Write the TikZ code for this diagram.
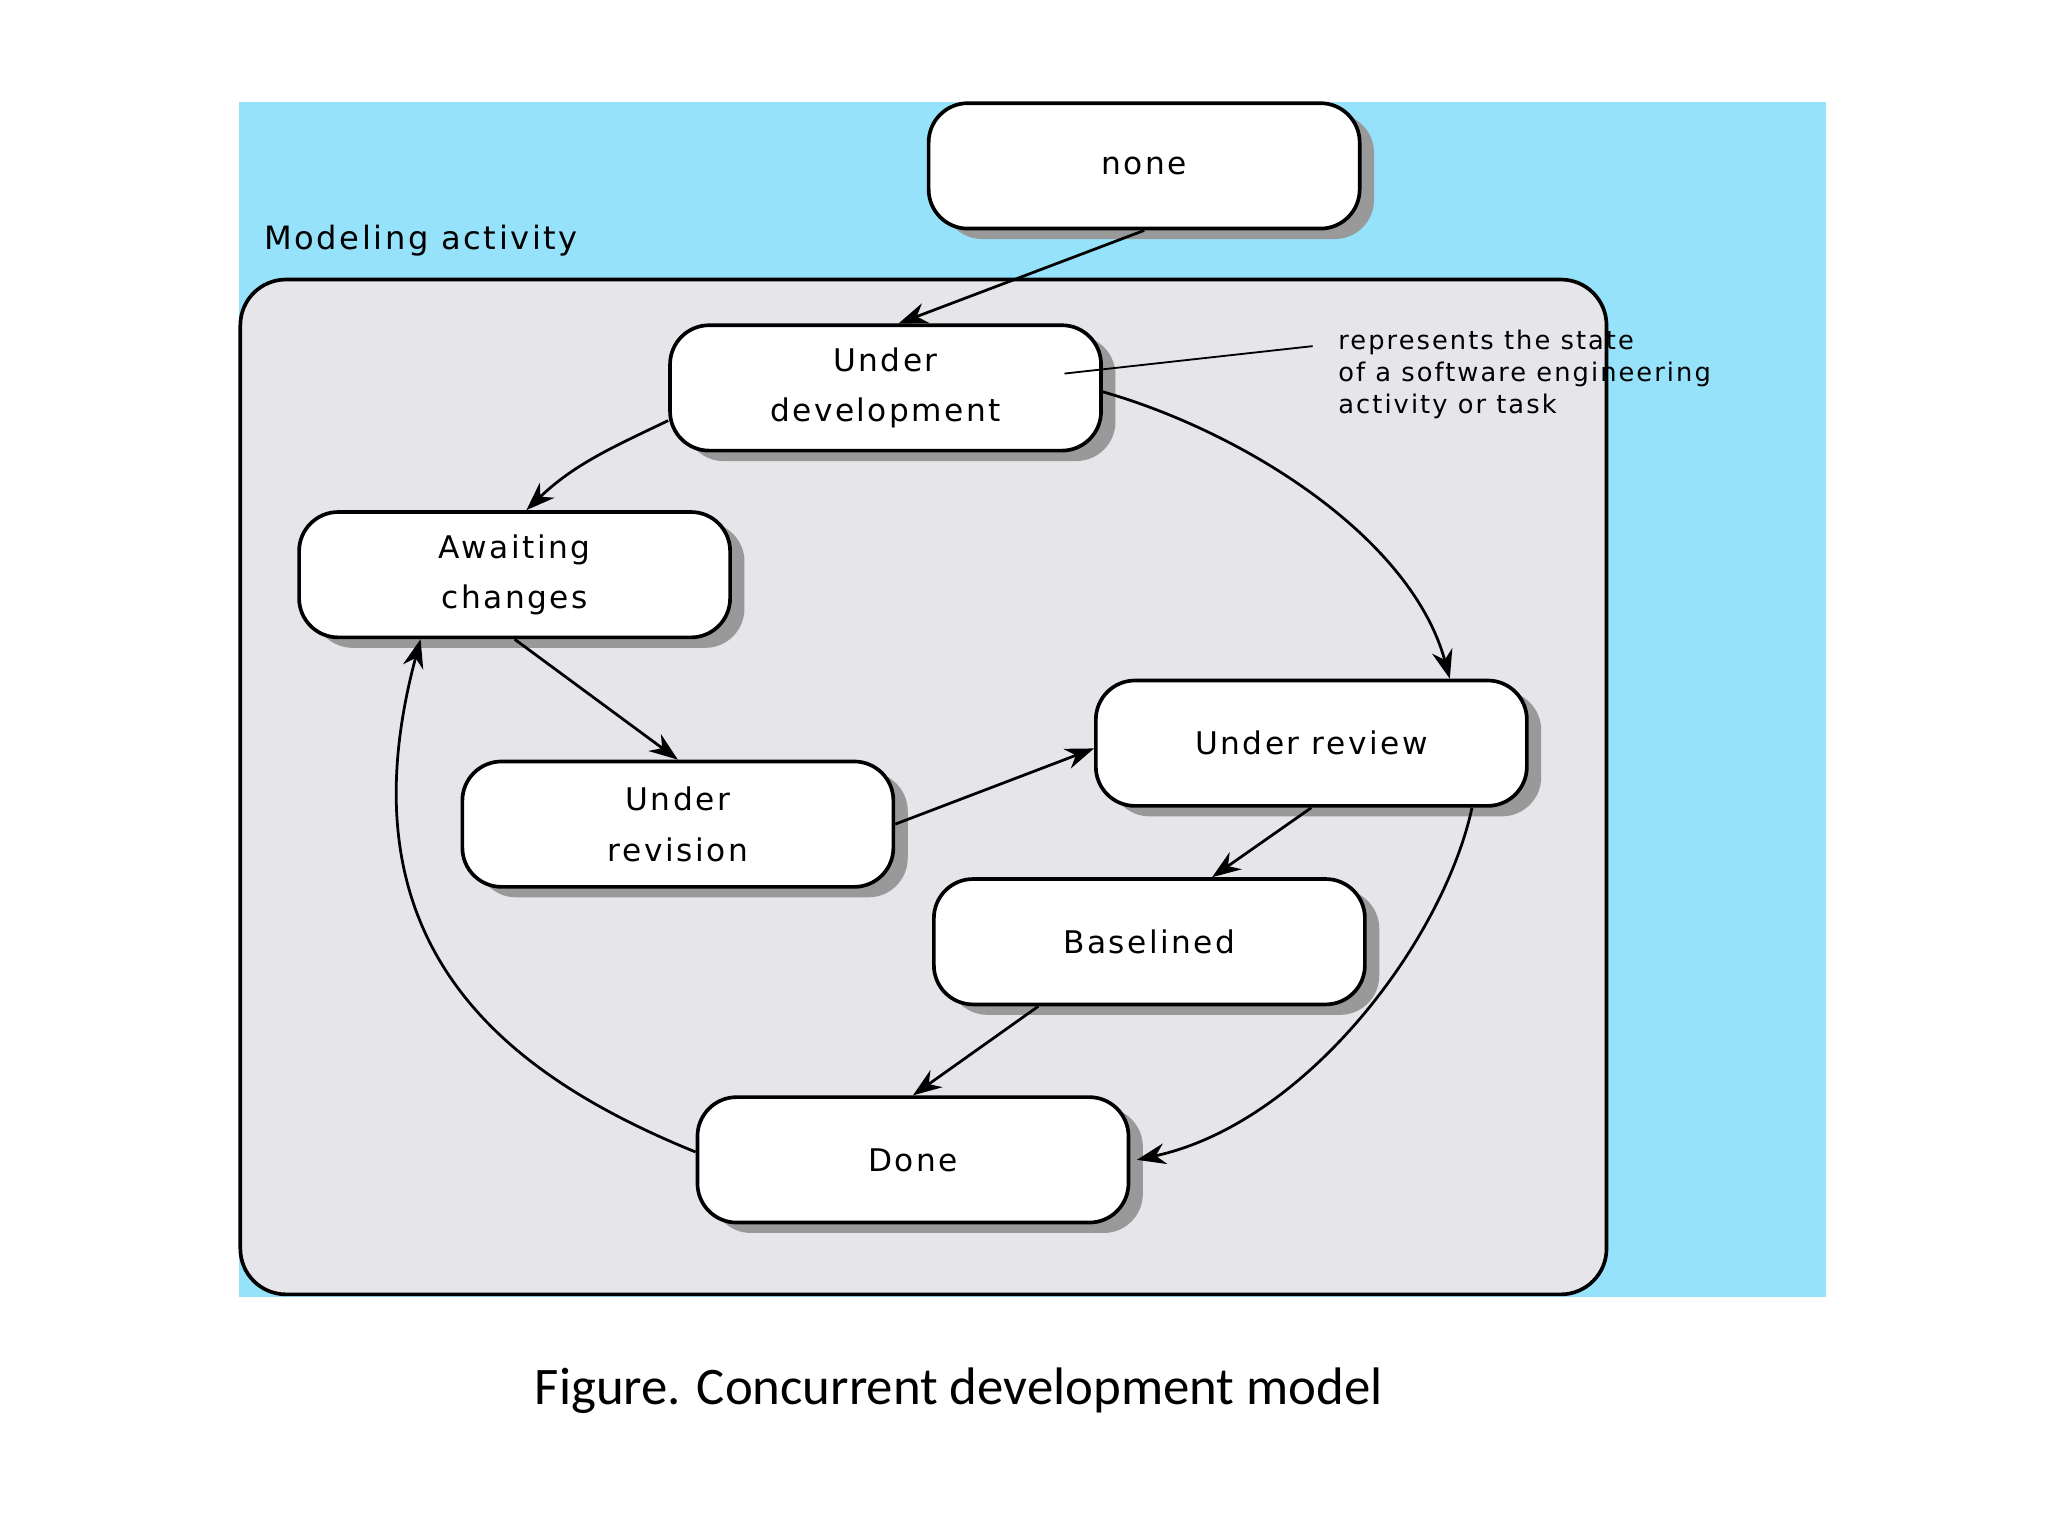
\documentclass[tikz,border=0pt]{standalone}
\usepackage{fontspec}
\setmainfont{DejaVu Sans}[LetterSpace=8]
\newfontfamily\capfont{Carlito}
\usetikzlibrary{arrows.meta,shadows}
\definecolor{skyback}{RGB}{150,226,250}
\definecolor{panelgray}{RGB}{230,229,233}
\begin{document}
\begin{tikzpicture}[
    x=0.1mm, y=-0.1mm,
    state/.style={rectangle, draw, thick, fill=white, rounded corners=3mm, minimum width=33mm, minimum height=9.6mm, align=center, font=\fontsize{6.8}{11}\selectfont, drop shadow={shadow xshift=1.1mm, shadow yshift=-0.8mm, opacity=1, fill=gray!80}},
    arrow/.style={-{Stealth[length=2.2mm, width=1.6mm]}, semithick}
]
\useasboundingbox (0,0) rectangle (1568,1176);

% Hintergrund
\fill[skyback] (183,78) rectangle (1398,993);
\draw[thick, fill=panelgray, rounded corners=3.5mm] (184,214) rectangle (1230,991);
\node[anchor=west, font=\fontsize{7}{9}\selectfont] (title) at (190,184) {Modeling activity};

% Zustaende
\node[state] (none) at (876,127) {none};
\node[state] (dev) at (678,297) {Under\\development};
\node[state] (await) at (394,440) {Awaiting\\changes};
\node[state] (rev) at (519,631) {Under\\revision};
\node[state] (review) at (1004,569) {Under review};
\node[state] (base) at (880,721) {Baselined};
\node[state] (done) at (699,888) {Done};

% Anmerkung
\node[anchor=north west, align=left, font=\fontsize{5.6}{7}\selectfont, inner sep=0pt] (note) at (1024,252) {represents the state\\of a software engineering\\activity or task};
\coordinate (tip) at (815,286);
\draw (tip) -- ([xshift=-1.9mm]note.west |- 0,265);

% Uebergaenge
\draw[arrow] (none.south) -- ([xshift=1mm]dev.north);
\draw[arrow] (dev.west |- 0,322) .. controls (470,342) and (440,355) .. ([xshift=0.9mm]await.north);
\draw[arrow] (dev.east |- 0,300) .. controls (950,330) and (1080,410) .. ([xshift=10.6mm]review.north);
\draw[arrow] (await.south) -- (rev.north);
\draw[arrow] (rev.east) -- ([yshift=-0.4mm]review.west);
\draw[arrow] (review.south) -- ([xshift=4.8mm]base.north);
\draw[arrow] ([xshift=-8.5mm]base.south) -- (done.north);
\draw[arrow] ([xshift=12.3mm]review.south) .. controls (1105,720) and (1000,860) .. ([xshift=0.5mm]done.east);
\draw[arrow] (done.west |- 0,882) .. controls (380,820) and (260,720) .. ([xshift=-7.2mm]await.south);

% Bildunterschrift
\node[font=\capfont\fontsize{11.5}{14}\selectfont] (caption) at (734,1065) {Figure. Concurrent development model};
\end{tikzpicture}
\end{document}
